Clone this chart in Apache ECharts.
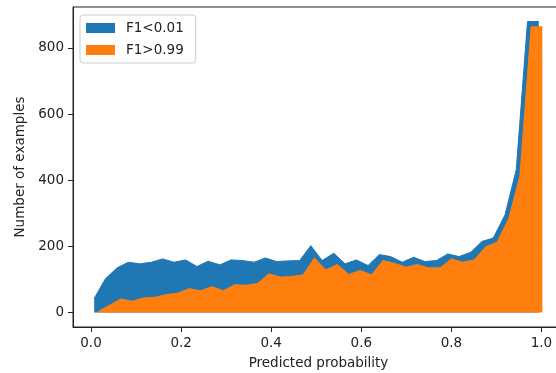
<!DOCTYPE html>
<html>
<head>
<meta charset="utf-8">
<script src="https://cdn.jsdelivr.net/npm/echarts@6/dist/echarts.min.js"></script>
<style>
  html, body { margin: 0; padding: 0; background: #fff; }
  #chart { width: 556px; height: 373px; }
</style>
</head>
<body>
<div id="chart"></div>
<script>
// predicted probability bins
const lowX = [0.007, 0.032, 0.058, 0.083, 0.108, 0.134, 0.159, 0.184, 0.210, 0.235,
  0.260, 0.286, 0.311, 0.336, 0.362, 0.387, 0.412, 0.438, 0.463, 0.488,
  0.513, 0.539, 0.564, 0.589, 0.615, 0.640, 0.665, 0.691, 0.716, 0.741,
  0.767, 0.792, 0.817, 0.843, 0.868, 0.893, 0.919, 0.944, 0.969, 0.994];
const lowY = [42, 102, 135, 152, 147, 152, 162, 152, 159, 139,
  155, 144, 159, 157, 152, 165, 154, 156, 157, 202,
  157, 179, 147, 159, 142, 175, 169, 152, 167, 154,
  157, 177, 169, 182, 215, 225, 295, 432, 880, 880];

const highX = [0.015, 0.040, 0.066, 0.091, 0.116, 0.142, 0.167, 0.192, 0.218, 0.243,
  0.268, 0.294, 0.319, 0.344, 0.370, 0.395, 0.420, 0.446, 0.471, 0.496,
  0.521, 0.547, 0.572, 0.597, 0.623, 0.648, 0.673, 0.699, 0.724, 0.749,
  0.775, 0.800, 0.825, 0.851, 0.876, 0.901, 0.927, 0.952, 0.977, 1.002];
const highY = [2, 21, 41, 34, 44, 46, 54, 58, 72, 66,
  78, 66, 84, 82, 88, 117, 107, 109, 114, 165,
  129, 145, 115, 127, 114, 157, 149, 137, 145, 135,
  135, 162, 152, 159, 199, 212, 283, 412, 864, 864];

const xTicks = [0, 0.2, 0.4, 0.6, 0.8, 1.0];
const yTicks = [0, 200, 400, 600, 800];
const seriesNames = ['F1<0.01', 'F1>0.99'];

const FONT = 'DejaVu Sans';
const chart = echarts.init(document.getElementById('chart'), null, {renderer: 'canvas'});

const areaSeries = (name, xs, ys, color) => ({
  name: name,
  type: 'line',
  showSymbol: false,
  symbol: 'none',
  animation: false,
  lineStyle: {color: color, width: 1},
  itemStyle: {color: color},
  areaStyle: {color: color, opacity: 1},
  data: xs.map((x, i) => [x, ys[i]])
});

chart.setOption({
  animation: false,
  grid: {
    left: 73, top: 7, width: 491, height: 320,
    outerBoundsMode: 'none',
    containLabel: false,
    show: true, borderColor: '#222', borderWidth: 1, backgroundColor: 'transparent'
  },
  legend: {
    orient: 'vertical',
    left: 80, top: 15,
    icon: 'rect',
    itemWidth: 29, itemHeight: 10,
    itemGap: 8,
    padding: [6, 12, 6, 6],
    borderColor: '#ccc', borderWidth: 1, borderRadius: 3,
    backgroundColor: 'rgba(255,255,255,0.8)',
    textStyle: {fontFamily: FONT, fontSize: 13.5, color: '#222', padding: [0, 0, 0, 6]},
    data: seriesNames
  },
  xAxis: {
    type: 'value',
    min: -0.04, max: 1.05,
    name: 'Predicted probability',
    nameLocation: 'middle',
    nameGap: 29,
    nameTextStyle: {fontFamily: FONT, fontSize: 13.5, color: '#222'},
    splitLine: {show: false},
    axisLine: {show: true, onZero: false, lineStyle: {color: '#222', width: 1}},
    axisTick: {show: true, length: 5, customValues: xTicks, lineStyle: {color: '#222'}},
    axisLabel: {
      customValues: xTicks, margin: 9,
      fontFamily: FONT, fontSize: 13.5, color: '#222',
      formatter: v => v.toFixed(1)
    }
  },
  yAxis: {
    type: 'value',
    min: -44, max: 924,
    name: 'Number of examples',
    nameLocation: 'middle',
    nameGap: 46,
    nameTextStyle: {fontFamily: FONT, fontSize: 13.5, color: '#222'},
    splitLine: {show: false},
    axisLine: {show: true, onZero: false, lineStyle: {color: '#222', width: 1}},
    axisTick: {show: true, length: 5, customValues: yTicks, lineStyle: {color: '#222'}},
    axisLabel: {
      customValues: yTicks, margin: 9,
      fontFamily: FONT, fontSize: 13.5, color: '#222'
    }
  },
  series: [
    areaSeries(seriesNames[0], lowX, lowY, '#1f77b4'),
    areaSeries(seriesNames[1], highX, highY, '#ff7f0e')
  ]
});
</script>
</body>
</html>
